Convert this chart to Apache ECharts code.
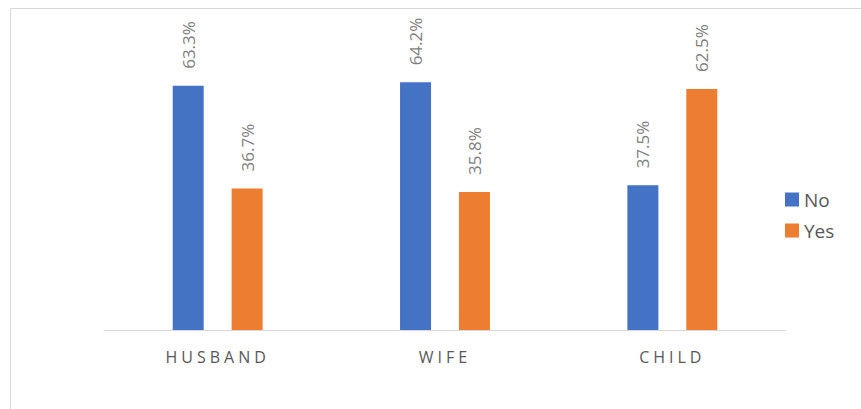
<!DOCTYPE html>
<html>
<head>
<meta charset="utf-8">
<script src="https://cdn.jsdelivr.net/npm/echarts@6/dist/echarts.min.js"></script>
<style>
html,body{margin:0;padding:0;background:#fff;}
#main{width:861px;height:409px;}
</style>
</head>
<body>
<div id="main"></div>
<script>
var categories = ['HUSBAND', 'WIFE', 'CHILD'];
var seriesNames = ['No', 'Yes'];
var noValues = [63.3, 64.2, 37.5];
var yesValues = [36.7, 35.8, 62.5];

var chart = echarts.init(document.getElementById('main'), null, {renderer: 'svg'});

function labelCfg() {
  return {
    show: true,
    position: 'top',
    rotate: 90,
    align: 'left',
    verticalAlign: 'middle',
    distance: 17,
    color: '#7f7f7f',
    fontFamily: 'Open Sans',
    fontSize: 17,
    formatter: function (p) { return p.value.toFixed(1) + '%'; }
  };
}

chart.setOption({
  animation: false,
  backgroundColor: '#fff',
  graphic: [{
    type: 'rect',
    left: 8, top: 6,
    shape: {width: 900, height: 500},
    style: {fill: 'none', stroke: '#d9d9d9', lineWidth: 1},
    silent: true
  }],
  grid: {left: 104, right: 75, top: 60, bottom: 79},
  legend: {
    orient: 'vertical',
    left: 780,
    top: 185,
    itemWidth: 14,
    itemHeight: 14,
    itemGap: 12,
    icon: 'rect',
    data: seriesNames,
    textStyle: {fontFamily: 'Open Sans', fontSize: 19, color: '#595959'}
  },
  xAxis: {
    type: 'category',
    data: categories,
    axisLine: {lineStyle: {color: '#d9d9d9', width: 1}},
    axisTick: {show: false},
    axisLabel: {color: '#595959', fontFamily: 'Open Sans', fontSize: 16, margin: 19}
  },
  yAxis: {
    type: 'value',
    min: 0,
    max: 70,
    show: false,
    splitLine: {show: false}
  },
  series: [
    {name: seriesNames[0], type: 'bar', data: noValues, barWidth: 31, barGap: '90%',
     itemStyle: {color: '#4472C4'}, label: labelCfg()},
    {name: seriesNames[1], type: 'bar', data: yesValues, barWidth: 31, barGap: '90%',
     itemStyle: {color: '#ED7D31'}, label: labelCfg()}
  ]
});

function spaceLabels() {
  var texts = document.querySelectorAll('#main text');
  texts.forEach(function (t) {
    if (categories.indexOf(t.textContent.trim()) >= 0) {
      t.setAttribute('letter-spacing', '4');
      t.style.letterSpacing = '4px';
    }
  });
}
spaceLabels();
chart.on('finished', spaceLabels);
</script>
</body>
</html>
